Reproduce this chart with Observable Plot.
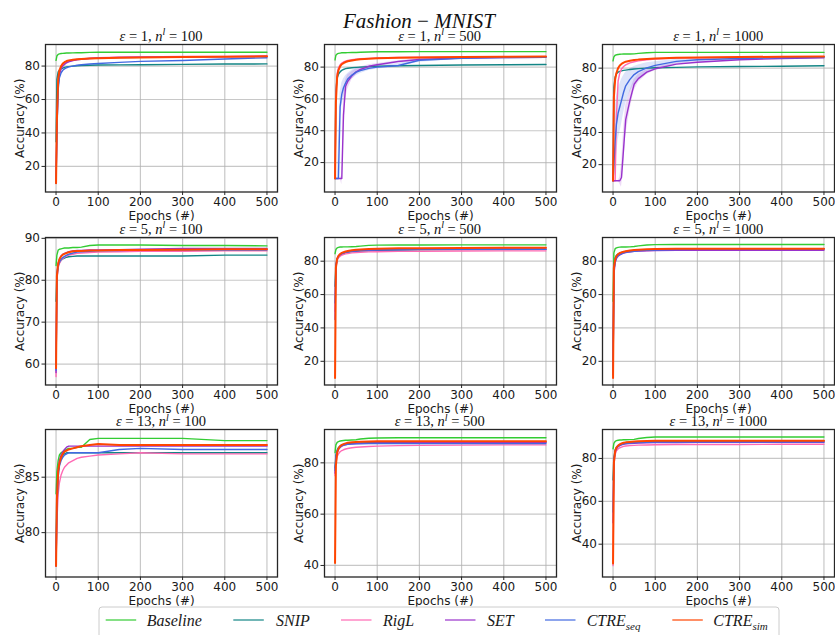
<!DOCTYPE html>
<html>
<head>
<meta charset="utf-8">
<script src="https://cdn.jsdelivr.net/npm/d3@7"></script>
<script src="https://cdn.jsdelivr.net/npm/@observablehq/plot@0.6"></script>
<style>
  html, body { margin: 0; padding: 0; background: #fff; }
  #root { position: relative; width: 835px; height: 635px; overflow: hidden; background: #fff; }
  #root svg { position: absolute; }
</style>
</head>
<body>
<div id="root"></div>
<script>
// ---------------- data ----------------
const EPOCHS = [0, 2, 5, 8, 12, 16, 20, 25, 30, 40, 50, 60, 80, 100, 150, 200, 300, 400, 500];
const SERIES = ["Baseline", "SNIP", "RigL", "SET", "CTRE_seq", "CTRE_sim"];
const COLORS = ["#33cc33", "#138585", "hotpink", "#9932cc", "royalblue", "orangered"];
const EPSILONS = [1, 1, 1, 5, 5, 5, 13, 13, 13];
const NL = [100, 500, 1000, 100, 500, 1000, 100, 500, 1000];
const X_TICKS = [0, 100, 200, 300, 400, 500];
const Y_DOMAINS = [[4.7, 92.9], [1.5, 94.2], [3, 94.7], [55, 90.2], [5.8, 94.2], [5.8, 94.2], [76, 89.3], [35.5, 93], [24.7, 93.5]];
const Y_TICKS = [[20, 40, 60, 80], [20, 40, 60, 80], [20, 40, 60, 80], [60, 70, 80, 90], [20, 40, 60, 80], [20, 40, 60, 80], [80, 85], [40, 60, 80], [40, 60, 80]];

// one row per panel (row-major: eps=1 n=100, 500, 1000; eps=5 ...; eps=13 ...)
const BASELINE = [
  [83.4, 86.0, 87.0, 87.3, 87.5, 87.6, 87.7, 87.8, 87.8, 87.9, 88.0, 88.0, 88.2, 88.3, 88.3, 88.3, 88.3, 88.3, 88.3],
  [84.5, 87.5, 88.3, 88.6, 88.8, 89.0, 89.0, 89.0, 89.1, 89.2, 89.2, 89.3, 89.5, 89.6, 89.6, 89.7, 89.7, 89.7, 89.7],
  [84.5, 87.0, 88.0, 88.3, 88.5, 88.6, 88.7, 88.8, 88.8, 88.8, 88.9, 89.2, 89.6, 89.8, 89.8, 89.8, 89.8, 89.8, 89.8],
  [83.5, 86.0, 87.2, 87.4, 87.5, 87.6, 87.7, 87.7, 87.7, 87.8, 87.8, 87.9, 88.3, 88.4, 88.4, 88.4, 88.3, 88.3, 88.2],
  [84.5, 87.0, 88.0, 88.3, 88.5, 88.5, 88.6, 88.6, 88.6, 88.7, 88.8, 89.0, 89.5, 89.6, 89.7, 89.7, 89.8, 89.8, 89.8],
  [56.0, 85.0, 87.5, 88.0, 88.3, 88.4, 88.5, 88.5, 88.5, 88.6, 88.8, 89.2, 89.7, 89.9, 90.0, 90.0, 90.0, 90.0, 90.0],
  [83.5, 85.5, 86.5, 87.0, 87.2, 87.3, 87.4, 87.5, 87.6, 87.6, 87.7, 87.7, 88.4, 88.5, 88.5, 88.5, 88.5, 88.3, 88.3],
  [84.0, 87.0, 88.0, 88.3, 88.5, 88.6, 88.7, 88.8, 88.8, 88.9, 89.0, 89.3, 89.6, 89.7, 89.8, 89.8, 89.8, 89.8, 89.8],
  [84.5, 87.0, 88.0, 88.3, 88.5, 88.6, 88.6, 88.7, 88.7, 88.8, 88.9, 89.3, 89.8, 90.0, 90.0, 90.0, 90.0, 90.0, 90.0]
];
const SNIP = [
  [34.7, 72.0, 76.5, 77.5, 78.3, 78.8, 79.2, 79.5, 79.7, 80.0, 80.2, 80.3, 80.5, 80.6, 80.7, 80.8, 81.0, 81.2, 81.3],
  [12.0, 65.0, 73.0, 75.5, 77.0, 78.0, 78.5, 79.0, 79.3, 79.6, 79.8, 80.0, 80.3, 80.5, 80.8, 81.0, 81.3, 81.5, 81.6],
  [10.0, 68.0, 74.5, 76.5, 77.5, 78.0, 78.3, 78.6, 78.8, 79.2, 79.5, 79.7, 80.0, 80.2, 80.5, 80.8, 81.0, 81.2, 81.5],
  [75.0, 81.5, 83.5, 84.2, 84.8, 85.1, 85.3, 85.5, 85.6, 85.7, 85.8, 85.8, 85.8, 85.8, 85.8, 85.8, 85.8, 86.0, 86.0],
  [65.0, 77.0, 81.0, 82.5, 83.5, 84.0, 84.5, 85.0, 85.3, 85.7, 86.0, 86.1, 86.3, 86.5, 86.7, 86.8, 87.0, 87.0, 87.1],
  [20.0, 77.0, 82.0, 83.5, 84.3, 84.8, 85.2, 85.6, 85.9, 86.2, 86.4, 86.6, 86.8, 87.0, 87.2, 87.3, 87.4, 87.5, 87.5],
  [78.5, 84.0, 85.5, 86.2, 86.7, 87.0, 87.1, 87.2, 87.2, 87.2, 87.2, 87.2, 87.2, 87.2, 87.2, 87.2, 87.2, 87.2, 87.2],
  [78.0, 83.0, 85.0, 86.0, 86.6, 87.0, 87.2, 87.4, 87.5, 87.6, 87.7, 87.8, 87.9, 88.0, 88.0, 88.0, 88.0, 88.0, 88.0],
  [70.0, 80.0, 84.0, 85.2, 86.0, 86.5, 86.8, 87.1, 87.3, 87.5, 87.6, 87.7, 87.8, 87.9, 88.0, 88.0, 88.0, 88.0, 88.0]
];
const RIGL = [
  [10.0, 45.0, 70.0, 76.0, 79.0, 80.5, 81.5, 82.3, 82.8, 83.5, 84.0, 84.3, 84.7, 85.0, 85.3, 85.5, 85.7, 85.8, 86.0],
  [10.0, 62.0, 76.0, 79.5, 81.5, 82.5, 83.2, 83.8, 84.2, 84.7, 85.0, 85.2, 85.5, 85.7, 86.0, 86.2, 86.4, 86.5, 86.6],
  [10.0, 10.0, 10.0, 50.0, 72.0, 77.0, 79.5, 81.0, 82.0, 83.3, 84.0, 84.5, 85.2, 85.6, 86.2, 86.5, 86.8, 87.0, 87.1],
  [57.0, 80.0, 83.0, 84.0, 84.8, 85.2, 85.5, 85.8, 86.0, 86.2, 86.4, 86.5, 86.6, 86.7, 86.8, 86.9, 86.9, 87.0, 87.0],
  [50.0, 76.0, 80.5, 82.0, 83.0, 83.6, 84.0, 84.4, 84.6, 85.0, 85.2, 85.4, 85.6, 85.7, 85.9, 86.0, 86.1, 86.2, 86.2],
  [15.0, 75.0, 80.5, 82.5, 83.5, 84.2, 84.7, 85.1, 85.4, 85.8, 86.0, 86.2, 86.4, 86.6, 86.8, 87.0, 87.0, 87.1, 87.1],
  [77.0, 81.0, 83.5, 84.5, 85.2, 85.6, 85.9, 86.1, 86.3, 86.5, 86.7, 86.8, 86.9, 87.0, 87.1, 87.2, 87.1, 87.1, 87.1],
  [75.0, 80.0, 82.5, 83.5, 84.3, 84.8, 85.1, 85.4, 85.6, 85.9, 86.1, 86.2, 86.4, 86.5, 86.7, 86.8, 86.9, 87.0, 87.0],
  [30.0, 77.0, 82.0, 83.5, 84.5, 85.0, 85.3, 85.6, 85.8, 86.0, 86.1, 86.2, 86.3, 86.4, 86.5, 86.5, 86.5, 86.6, 86.6]
];
const SET = [
  [10.0, 42.0, 68.0, 75.0, 78.5, 80.0, 81.0, 82.0, 82.5, 83.3, 83.8, 84.1, 84.5, 84.8, 85.1, 85.3, 85.5, 85.6, 85.8],
  [10.0, 10.0, 10.0, 10.0, 10.0, 10.0, 50.0, 68.0, 71.0, 74.5, 77.0, 78.5, 80.5, 81.5, 83.5, 84.8, 85.7, 86.0, 86.2],
  [10.0, 10.0, 10.0, 10.0, 10.0, 10.0, 12.0, 30.0, 48.0, 60.0, 70.0, 73.5, 77.5, 79.6, 82.5, 83.7, 85.2, 86.0, 86.4],
  [58.0, 81.0, 84.0, 85.0, 85.8, 86.2, 86.4, 86.6, 86.8, 87.0, 87.1, 87.1, 87.2, 87.2, 87.3, 87.4, 87.6, 87.6, 87.6],
  [45.0, 77.0, 81.5, 83.0, 84.0, 84.6, 85.0, 85.4, 85.6, 86.0, 86.2, 86.4, 86.6, 86.8, 87.0, 87.1, 87.2, 87.3, 87.3],
  [12.0, 72.0, 79.0, 81.5, 83.0, 83.8, 84.3, 84.8, 85.2, 85.6, 85.9, 86.1, 86.3, 86.4, 86.5, 86.5, 86.5, 86.5, 86.5],
  [77.0, 82.5, 85.5, 86.5, 87.0, 87.3, 87.5, 87.7, 87.8, 87.8, 87.8, 87.8, 87.8, 87.8, 87.8, 87.8, 87.8, 87.8, 87.8],
  [76.0, 81.5, 84.0, 85.2, 86.0, 86.5, 86.8, 87.0, 87.2, 87.4, 87.5, 87.6, 87.7, 87.8, 87.8, 87.9, 87.9, 87.9, 87.9],
  [50.0, 79.0, 83.0, 84.5, 85.5, 86.0, 86.3, 86.6, 86.8, 87.0, 87.1, 87.2, 87.3, 87.4, 87.4, 87.5, 87.5, 87.5, 87.5]
];
const CTRE_SEQ = [
  [10.0, 40.0, 66.0, 73.0, 76.0, 77.5, 78.3, 79.0, 79.5, 80.0, 80.5, 80.8, 81.2, 81.5, 82.2, 82.8, 83.3, 84.2, 85.0],
  [10.0, 10.0, 10.0, 10.0, 55.0, 63.0, 67.0, 70.0, 72.5, 75.0, 76.8, 77.8, 79.2, 80.0, 81.0, 84.3, 85.6, 86.0, 86.2],
  [10.0, 20.0, 35.0, 45.0, 52.0, 56.0, 60.0, 65.0, 69.0, 73.0, 76.0, 77.8, 80.2, 81.7, 84.2, 85.2, 86.0, 86.4, 86.8],
  [58.5, 80.5, 83.3, 84.3, 85.0, 85.4, 85.7, 86.0, 86.2, 86.5, 86.7, 86.8, 86.9, 87.0, 87.1, 87.2, 87.2, 87.2, 87.2],
  [55.0, 77.5, 81.5, 83.0, 84.0, 84.6, 85.0, 85.4, 85.7, 86.0, 86.3, 86.5, 86.7, 86.8, 87.0, 87.1, 87.2, 87.2, 87.2],
  [12.0, 74.0, 80.0, 82.0, 83.3, 84.0, 84.5, 85.0, 85.3, 85.7, 86.0, 86.2, 86.5, 86.7, 87.0, 87.1, 87.1, 87.1, 87.1],
  [77.0, 82.0, 85.0, 86.0, 86.5, 86.8, 87.0, 87.1, 87.2, 87.2, 87.2, 87.2, 87.2, 87.2, 87.5, 87.6, 87.5, 87.5, 87.5],
  [77.0, 82.0, 84.5, 85.5, 86.2, 86.6, 86.9, 87.1, 87.2, 87.3, 87.4, 87.4, 87.5, 87.5, 87.5, 87.5, 87.5, 87.5, 87.5],
  [55.0, 79.0, 83.5, 84.8, 85.7, 86.2, 86.5, 86.8, 87.0, 87.2, 87.3, 87.4, 87.5, 87.6, 87.6, 87.6, 87.7, 87.7, 87.7]
];
const CTRE_SIM = [
  [10.0, 48.0, 72.0, 77.5, 80.0, 81.5, 82.3, 83.0, 83.4, 83.8, 84.1, 84.3, 84.5, 84.7, 85.0, 85.2, 85.4, 85.6, 85.8],
  [10.0, 58.0, 74.0, 78.0, 80.5, 81.8, 82.5, 83.2, 83.7, 84.2, 84.6, 84.9, 85.2, 85.5, 85.8, 86.0, 86.3, 86.5, 86.7],
  [10.0, 62.0, 73.0, 77.0, 80.0, 81.7, 82.6, 83.4, 84.0, 84.6, 85.0, 85.3, 85.7, 86.0, 86.4, 86.6, 86.9, 87.1, 87.2],
  [59.0, 81.0, 84.0, 85.0, 85.7, 86.1, 86.3, 86.5, 86.7, 86.9, 87.0, 87.0, 87.1, 87.1, 87.2, 87.2, 87.3, 87.4, 87.4],
  [10.0, 76.0, 81.5, 83.2, 84.3, 85.0, 85.4, 85.8, 86.1, 86.5, 86.8, 87.0, 87.3, 87.5, 87.7, 87.8, 87.9, 88.0, 88.0],
  [10.0, 76.0, 81.0, 83.0, 84.2, 84.9, 85.3, 85.7, 86.0, 86.4, 86.7, 86.9, 87.1, 87.3, 87.4, 87.5, 87.5, 87.5, 87.5],
  [77.0, 83.0, 85.5, 86.3, 86.8, 87.1, 87.3, 87.4, 87.5, 87.6, 87.7, 87.8, 87.9, 88.0, 87.9, 87.9, 87.9, 87.9, 87.9],
  [41.0, 79.0, 84.0, 85.5, 86.5, 87.0, 87.3, 87.6, 87.8, 88.0, 88.1, 88.2, 88.3, 88.4, 88.4, 88.4, 88.4, 88.4, 88.4],
  [31.0, 78.0, 83.5, 85.0, 86.0, 86.6, 87.0, 87.3, 87.5, 87.7, 87.9, 88.0, 88.1, 88.2, 88.2, 88.3, 88.3, 88.3, 88.3]
];

// shaded spread bands
const SEQ_BAND_P2_LO = [10, 10, 10, 10, 45, 55, 61, 66, 69, 72.5, 74.5, 76, 77.8, 78.8, 80, 83, 85, 85.6, 85.9];
const SEQ_BAND_P2_HI = [10, 10, 10, 30, 64, 70, 72.5, 74.5, 76, 78, 79.2, 80, 80.8, 81.3, 82.2, 85.5, 86.2, 86.4, 86.5];
const SET_BAND_P2_LO = [10, 10, 10, 10, 10, 6, 30, 60, 66, 72, 75, 77, 79.5, 80.7, 83, 84.4, 85.5, 85.8, 86];
const SET_BAND_P2_HI = [10, 10, 10, 10, 10, 12, 62, 72, 75, 77, 79, 80, 81.5, 82.3, 84, 85.2, 85.9, 86.2, 86.4];
const SEQ_BAND_P3_LO = [10, 10, 15, 25, 35, 40, 45, 52, 58, 65, 70, 73, 77, 79.5, 82.8, 84.3, 85.5, 86, 86.4];
const SEQ_BAND_P3_HI = [10, 35, 55, 62, 67, 70, 73, 75.5, 77.5, 79.5, 81, 82, 83.3, 84, 85.5, 86.1, 86.5, 86.8, 87.1];
const SET_BAND_P3_LO = [10, 10, 10, 10, 10, 8, 6, 18, 38, 54, 66, 71, 76, 78.5, 81.8, 83.2, 84.9, 85.8, 86.2];
const SET_BAND_P3_HI = [10, 10, 10, 10, 10, 12, 20, 42, 57, 66, 73, 76, 79, 80.7, 83.2, 84.2, 85.5, 86.2, 86.6];
const BANDS = [
  {panel: 1, series: 4, lo: SEQ_BAND_P2_LO, hi: SEQ_BAND_P2_HI},
  {panel: 1, series: 3, lo: SET_BAND_P2_LO, hi: SET_BAND_P2_HI},
  {panel: 2, series: 4, lo: SEQ_BAND_P3_LO, hi: SEQ_BAND_P3_HI},
  {panel: 2, series: 3, lo: SET_BAND_P3_LO, hi: SET_BAND_P3_HI}
];

const DATA = [BASELINE, SNIP, RIGL, SET, CTRE_SEQ, CTRE_SIM];

// ---------------- layout ----------------
const root = document.getElementById("root");
const COL_LEFT = [45, 323.7, 602.3];
const ROW_TOP = [44, 237.2, 429.3];
const FW = 232, FH = 147.5;
const ML = 45, MR = 2, MT = 8, MB = 36;
const FONT = "'DejaVu Sans', sans-serif";

for (let p = 0; p < 9; p++) {
  const r = Math.floor(p / 3), c = p % 3;
  const marks = [
    Plot.gridX(X_TICKS, {stroke: "#b0b0b0", strokeOpacity: 0.7, strokeWidth: 1.2}),
    Plot.gridY(Y_TICKS[p], {stroke: "#b0b0b0", strokeOpacity: 0.7, strokeWidth: 1.2})
  ];
  for (const b of BANDS.filter(d => d.panel === p)) {
    const rows = EPOCHS.map((e, j) => ({epoch: e, lo: b.lo[j], hi: b.hi[j]}));
    marks.push(Plot.areaY(rows, {x: "epoch", y1: "lo", y2: "hi", fill: COLORS[b.series], fillOpacity: 0.18}));
  }
  SERIES.forEach((s, i) => {
    const vals = DATA[i][p];
    const rows = EPOCHS.map((e, j) => ({epoch: e, acc: vals[j], series: s}));
    marks.push(Plot.line(rows, {x: "epoch", y: "acc", stroke: COLORS[i], strokeWidth: i === 5 ? 2 : 1.4}));
  });
  marks.push(Plot.frame({stroke: "#262626", strokeWidth: 1.3}));
  marks.push(Plot.axisX(X_TICKS, {tickSize: 3.5, tickPadding: 2, fontSize: 12, label: "Epochs (#)", labelAnchor: "center", labelArrow: "none", labelOffset: 27.5, stroke: "#262626"}));
  marks.push(Plot.axisY(Y_TICKS[p], {tickSize: 3.5, tickPadding: 2, fontSize: 12, label: "Accuracy (%)", labelAnchor: "center", labelArrow: "none", labelOffset: 30, stroke: "#262626"}));

  const svg = Plot.plot({
    width: ML + FW + MR,
    height: MT + FH + MB,
    marginLeft: ML, marginRight: MR, marginTop: MT, marginBottom: MB,
    x: {domain: [-25, 525]},
    y: {domain: Y_DOMAINS[p]},
    style: {fontFamily: FONT, fontSize: "12px", color: "#1a1a1a", background: "none", overflow: "visible"},
    marks
  });
  svg.style.left = (COL_LEFT[c] - ML) + "px";
  svg.style.top = (ROW_TOP[r] - MT) + "px";
  root.appendChild(svg);
}

// ---------------- titles & legend overlay ----------------
const ov = d3.select(root).append("svg")
  .attr("width", 835).attr("height", 635)
  .style("left", "0px").style("top", "0px");
const SERIF = "'Liberation Serif', serif";

const t = ov.append("text").attr("x", 343).attr("y", 27.5)
  .attr("font-family", SERIF).attr("font-size", 21).attr("fill", "#111");
t.append("tspan").attr("font-style", "italic").text("Fashion");
t.append("tspan").text(" \u2212 ");
t.append("tspan").attr("font-style", "italic").text("MNIST");

for (let p = 0; p < 9; p++) {
  const r = Math.floor(p / 3), c = p % 3;
  const tt = ov.append("text")
    .attr("x", COL_LEFT[c] + FW / 2).attr("y", ROW_TOP[r] - 3.3)
    .attr("text-anchor", "middle")
    .attr("font-family", SERIF).attr("font-size", 14.5).attr("fill", "#111");
  tt.append("tspan").attr("font-style", "italic").text("\u03b5");
  tt.append("tspan").text(" = " + EPSILONS[p] + ", ");
  tt.append("tspan").attr("font-style", "italic").text("n");
  tt.append("tspan").attr("font-style", "italic").attr("font-size", 10).attr("dy", -5.5).text("l");
  tt.append("tspan").attr("dy", 5.5).text(" = " + NL[p]);
}

// legend
ov.append("rect").attr("x", 99).attr("y", 607).attr("width", 680).attr("height", 40)
  .attr("rx", 3).attr("fill", "#fff").attr("fill-opacity", 0.85)
  .attr("stroke", "#cccccc").attr("stroke-width", 1);
const LEG_LINE_X = [105.7, 233.3, 341, 445, 545, 672.3];
const LEG_TEXT_X = [146.7, 276, 383, 487, 586.7, 713.3];
SERIES.forEach((s, i) => {
  ov.append("line").attr("x1", LEG_LINE_X[i]).attr("x2", LEG_LINE_X[i] + 30.5)
    .attr("y1", 620).attr("y2", 620)
    .attr("stroke", COLORS[i]).attr("stroke-width", 2).attr("stroke-opacity", 0.6);
  const lt = ov.append("text").attr("x", LEG_TEXT_X[i]).attr("y", 625.7)
    .attr("font-family", SERIF).attr("font-size", 16).attr("font-style", "italic").attr("fill", "#1a1a1a");
  const parts = s.split("_");
  lt.append("tspan").text(parts[0]);
  if (parts[1]) lt.append("tspan").attr("font-size", 11).attr("dy", 4).text(parts[1]);
});
</script>
</body>
</html>
